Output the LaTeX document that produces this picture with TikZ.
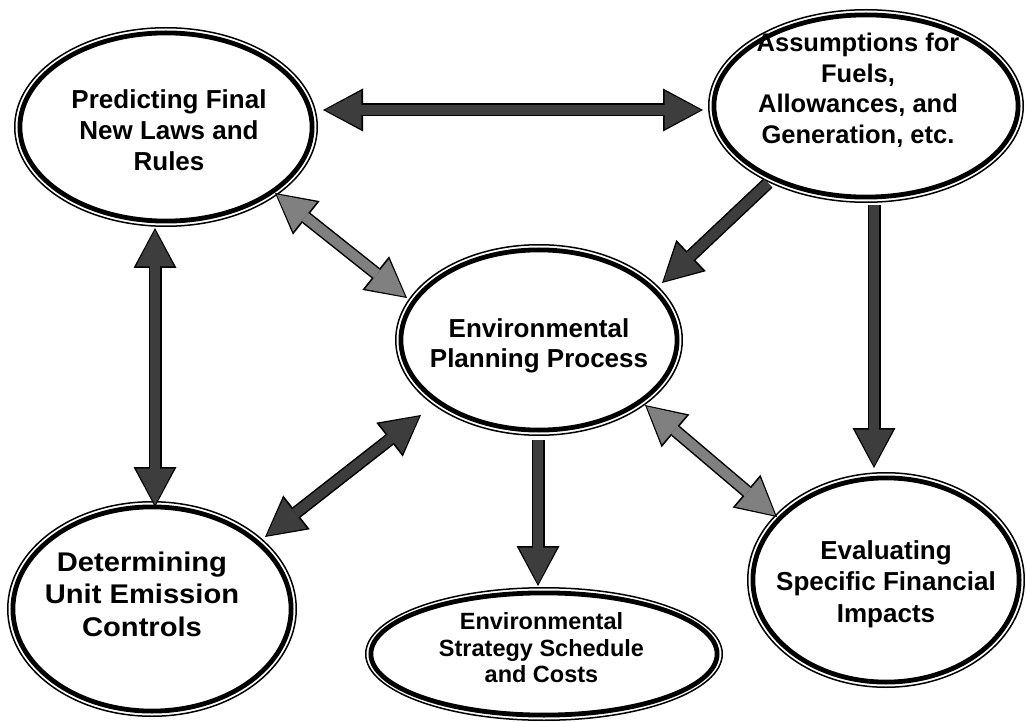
\documentclass[tikz,border=0pt]{standalone}
\usepackage{fontspec}
\setmainfont{Liberation Sans}
\newfontfamily\wideface[FakeStretch=1.08]{Liberation Sans}
\usetikzlibrary{arrows.meta,shapes.geometric}

% bubble: outer thin ellipse (the node) plus an inner heavy ring
\newcommand\bubblenode[5]{%
  \pgfmathsetmacro\bubW{2*#4-1.5}\pgfmathsetmacro\bubH{2*#5-1.5}%
  \pgfmathsetmacro\ringX{#4-5.9}\pgfmathsetmacro\ringY{#5-5.9}%
  \node[bub, minimum width=\bubW pt, minimum height=\bubH pt] (#1) at (#2,#3) {};
  \draw[line width=4.8pt] (#1.center) ellipse [x radius=\ringX pt, y radius=\ringY pt];}

\tikzset{
  bub/.style={ellipse, draw=black, line width=1.5pt, inner sep=0pt, outer sep=0pt},
  txt/.style={align=center, text=black, inner sep=0pt},
  % arrow heads: outline and fill
  headout/.tip={Triangle[length=40pt,width=43pt,line width=0pt]},
  headin/.tip={Triangle[length=36pt,width=38pt,line width=0pt]},
  dblarr/.style={line width=10pt, arrows={headin-headin},
    shorten <=2.3pt, shorten >=2.3pt,
    preaction={draw=black, line width=13pt, arrows={headout-headout},
      shorten <=0pt, shorten >=0pt}},
  sglarr/.style={line width=10pt, arrows={-headin}, shorten >=2.3pt,
    preaction={draw=black, line width=13pt, arrows={-headout}, shorten >=0pt}},
  darkfill/.style={draw=black!76},
  grayfill/.style={draw=black!50},
}

\begin{document}
\begin{tikzpicture}[x=1pt,y=-1pt]
\fill[white] (0,0) rectangle (1026,722);
\useasboundingbox (0,0) rectangle (1026,722);

% the six topics
\bubblenode{P}{166}{127}{152}{100}
\bubblenode{A}{866}{106}{158}{97}
\bubblenode{E}{539}{340}{144}{96}
\bubblenode{D}{152}{609}{145}{108}
\bubblenode{S}{544}{654}{179}{67}
\bubblenode{V}{886}{580}{139}{108}

% links between topics
\draw[darkfill, dblarr] ([shift={(157,-17)}]P.center) -- ([shift={(-163,4)}]A.center);
\draw[darkfill, sglarr] ([shift={(-98,77)}]A.center) -- ([shift={(123,-57)}]E.center);
\draw[darkfill, sglarr] ([shift={(8,99)}]A.center) -- ([shift={(-12,-112)}]V.center);
\draw[grayfill, dblarr] ([shift={(109,66)}]P.center) -- ([shift={(-132,-42)}]E.center);
\draw[darkfill, dblarr] ([shift={(-11,101)}]P.center) -- ([shift={(3,-102)}]D.center);
\draw[darkfill, dblarr] ([shift={(113,-72)}]D.center) -- ([shift={(-118,75)}]E.center);
\draw[darkfill, sglarr] ([shift={(-1,100)}]E.center) -- ([shift={(-6,-68)}]S.center);
\draw[grayfill, dblarr] ([shift={(106,65)}]E.center) -- ([shift={(-109,-63)}]V.center);

% labels
\node[txt, font=\bfseries\fontsize{26}{31}\selectfont] (Pt) at ([shift={(3,3.5)}]P.center)
  {Predicting Final\\New Laws and\\Rules};
\node[txt, font=\bfseries\fontsize{25.5}{30.5}\selectfont] (At) at ([shift={(-8,-16)}]A.center)
  {Assumptions for\\Fuels,\\Allowances, and\\Generation, etc.};
\node[txt, font=\bfseries\fontsize{26}{30}\selectfont] (Et) at ([shift={(0,6)}]E.center)
  {Environmental\\Planning Process};
\node[txt, font=\wideface\bfseries\fontsize{27}{32.5}\selectfont] (Dt) at ([shift={(-10,-15)}]D.center)
  {Determining\\Unit Emission\\Controls};
\node[txt, font=\bfseries\fontsize{23.5}{26.5}\selectfont] (St) at ([shift={(-2.5,-6)}]S.center)
  {Environmental\\Strategy Schedule\\and Costs};
\node[txt, font=\bfseries\fontsize{26}{31.5}\selectfont] (Vt) at ([shift={(0,4)}]V.center)
  {Evaluating\\Specific Financial\\Impacts};
\end{tikzpicture}
\end{document}
